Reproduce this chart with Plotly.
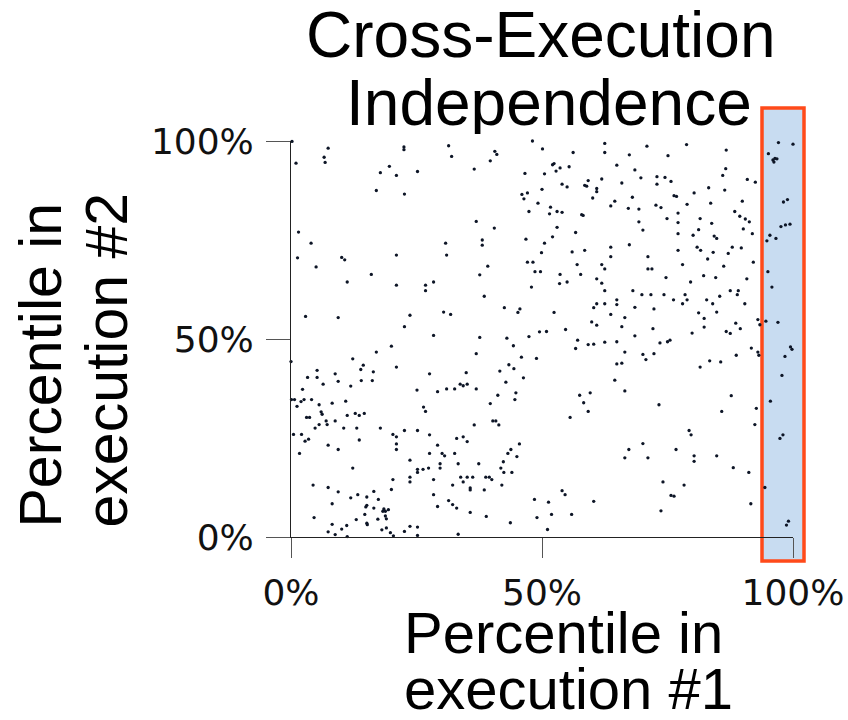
import plotly.graph_objects as go

# Percentile rank of each benchmark run in execution #1 (x) and execution #2 (y)
exec1_pct = [
    0.2, 7.4, 1.0, 6.6, 6.8, 22.5, 22.5, 31.4, 32.0, 19.6, 17.8, 21.0, 25.2, 17.0, 22.6, 1.5, 4.0, 1.3, 10.1, 10.7, 5.0, 21.0, 30.8, 31.0,
    48.1, 50.1, 40.6, 41.0, 39.7, 36.5, 56.2, 62.5, 62.5, 67.4, 46.6, 50.5, 52.1, 52.4, 53.6, 52.8, 55.4, 64.9, 61.9, 65.9, 59.2, 58.5,
    58.9, 60.9, 60.9, 54.0, 55.0, 50.0, 46.0, 47.1, 46.4, 49.2, 60.1, 64.5, 63.7, 67.2, 47.4, 51.7, 51.5, 53.0, 54.0, 57.9, 58.2, 36.9,
    40.5, 53.0, 56.7, 52.1, 46.8, 50.5, 38.1, 38.1, 49.9, 56.0, 58.5, 63.7, 63.7, 67.4, 39.2, 47.1, 48.2, 57.0, 61.9, 62.5,
    70.9, 78.8, 75.1, 86.7, 68.5, 69.7, 72.9, 74.5, 75.7, 72.9, 86.6, 86.0, 90.9, 92.5, 97.1, 100.0, 95.1, 96.0, 96.4, 96.8, 96.2, 83.2,
    86.4, 80.3, 68.0, 76.3, 76.8, 69.3, 72.7, 73.7, 78.9, 83.6, 89.9, 77.1, 88.4, 89.4, 90.5, 91.3, 98.1, 98.9, 69.3, 74.9, 77.1, 81.5,
    83.8, 70.1, 77.1, 81.2, 80.1, 84.3, 84.8, 90.1, 91.9, 97.6, 98.5, 99.4, 95.4, 94.8, 96.6, 77.1, 80.9, 81.6, 84.1, 87.9, 89.7, 87.1,
    71.1, 83.0, 78.0, 86.2, 92.1, 71.1, 71.9,
    11.2, 16.0, 21.0, 26.8, 28.4, 26.8, 2.9, 9.4, 23.7, 22.6, 30.4, 31.8, 28.4, 20.0, 17.0, 0.0, 12.3, 14.4, 13.9, 16.4, 21.0, 27.6,
    5.2, 3.3, 5.2, 8.8, 9.4, 6.4, 14.0, 16.2, 11.9, 2.3, 25.1, 29.2, 31.0, 32.6, 0.1, 0.7, 2.0, 2.6, 4.1, 8.2, 10.9, 5.6,
    37.6, 48.6, 49.7, 53.6, 57.7, 47.9, 53.5, 55.0, 60.9, 61.9, 62.5, 38.5, 42.5, 45.6, 45.2, 52.4, 60.9, 62.5, 64.9, 64.9, 60.3, 63.7,
    66.5, 59.9, 60.9, 65.9, 54.7, 50.9, 49.5, 47.4, 37.6, 43.0, 44.3, 57.1, 56.7, 59.2, 60.3, 62.5, 64.9, 66.5, 36.9, 45.9, 48.9, 43.4,
    44.4, 41.6, 64.9, 65.9, 34.9, 46.3, 42.8, 64.5, 33.7, 34.3, 35.1, 36.9, 41.2, 44.8, 44.6, 39.7, 57.5, 59.6, 58.3, 66.5,
    74.7, 79.6, 82.2, 84.6, 90.8, 68.1, 69.9, 71.7, 74.3, 78.5, 76.2, 78.0, 78.9, 82.8, 84.0, 85.4, 87.5, 89.1, 88.9, 90.4, 68.5, 72.3,
    81.2, 84.8, 82.3, 72.1, 82.3, 79.9, 88.6, 89.5, 86.7, 87.5, 93.0, 93.4, 94.6, 97.0, 95.8, 95.0, 68.5, 73.5, 75.0, 75.5, 70.1, 72.3,
    70.7, 81.5, 83.4, 85.6, 88.7, 91.7, 93.0, 93.2, 99.5, 99.8, 98.4, 97.8, 95.5, 87.7, 73.3,
    1.2, 6.0, 6.2, 11.2, 12.8, 13.6, 14.6, 3.1, 3.7, 5.6, 7.0, 7.2, 8.8, 4.8, 10.5, 13.1, 17.8, 0.5, 2.1, 3.5, 2.8, 7.4, 9.4, 13.6,
    1.7, 20.3, 21.0, 21.0, 21.0, 22.6, 25.2, 26.4, 26.8, 27.6, 33.0, 29.2, 27.6, 30.1, 30.6, 32.6, 23.7, 12.3, 25.2, 25.2, 26.3, 27.4,
    29.7, 29.7, 33.3, 23.7, 23.7, 20.3, 28.4, 32.2, 4.4, 7.4, 9.4, 20.0, 16.5, 13.3, 11.9, 15.1, 17.4, 28.4, 31.4, 32.2, 33.0, 29.2,
    8.2, 15.1, 14.9, 16.5, 18.5, 18.8, 18.3, 19.4, 14.7, 18.8, 19.0, 17.3, 4.6, 13.0, 15.1, 15.2, 8.2, 11.1, 10.1, 7.4, 8.8, 11.2,
    18.1, 19.0, 19.8, 20.4, 22.6, 23.7, 25.2, 25.2, 33.3,
    40.2, 40.8, 41.4, 36.5, 34.3, 35.1, 37.4, 45.5, 43.8, 43.2, 45.0, 42.3, 41.8, 42.4, 44.0, 33.8, 35.1, 36.2, 34.3, 38.8, 39.5, 40.0,
    35.7, 35.7, 38.5, 42.0, 35.7, 38.9, 43.7, 48.5, 51.3, 49.0, 51.9, 51.1, 54.0, 54.6, 55.9, 60.3, 55.6, 59.2, 66.5, 67.3,
    85.8, 92.7, 92.4, 98.0, 97.4, 79.3, 79.7, 70.1, 71.1, 76.7, 80.3, 80.3, 84.8, 88.1, 91.2, 74.1, 78.3, 75.7, 76.3, 73.7, 91.6, 94.4,
    99.1, 98.7,
]
exec2_pct = [
    99.9, 98.2, 94.4, 95.9, 94.6, 98.5, 97.8, 98.8, 96.1, 93.6, 92.0, 91.3, 92.3, 87.5, 86.6, 77.0, 74.2, 70.5, 70.6, 70.0, 68.2, 71.2, 74.2, 71.2,
    100.0, 98.0, 97.4, 96.6, 95.0, 92.9, 97.1, 99.4, 97.1, 96.5, 91.8, 91.7, 94.0, 94.3, 93.2, 92.4, 93.5, 93.9, 90.4, 89.4, 90.0, 88.8,
    88.6, 88.0, 87.2, 89.1, 88.4, 87.8, 86.5, 86.9, 85.4, 84.3, 85.6, 84.8, 83.6, 83.0, 82.2, 83.3, 81.6, 82.2, 82.0, 81.4, 81.2, 79.7,
    78.0, 78.2, 76.9, 75.8, 75.2, 74.2, 75.0, 73.7, 71.8, 72.0, 72.4, 73.2, 70.8, 73.8, 68.4, 69.4, 69.4, 68.8, 68.8, 67.7,
    98.7, 99.1, 96.3, 97.7, 92.7, 90.7, 91.0, 90.8, 89.8, 89.1, 93.0, 91.3, 90.3, 89.6, 99.6, 99.2, 96.8, 95.2, 95.6, 95.5, 94.7, 88.2,
    87.6, 86.9, 85.8, 86.2, 86.0, 82.8, 83.8, 83.2, 84.0, 84.3, 84.8, 81.8, 82.2, 81.0, 80.3, 79.6, 84.6, 85.2, 79.6, 80.4, 79.4, 80.4,
    79.2, 77.5, 76.6, 77.6, 76.2, 76.0, 75.4, 77.8, 76.6, 78.4, 78.8, 79.0, 76.2, 74.8, 75.4, 72.4, 73.2, 72.4, 71.9, 73.2, 73.0, 71.6,
    70.8, 70.2, 68.8, 68.4, 69.4, 67.7, 67.7,
    64.4, 66.3, 63.6, 63.6, 64.4, 62.2, 55.7, 55.4, 56.0, 53.1, 56.8, 56.2, 50.9, 48.2, 46.7, 44.3, 45.0, 43.4, 42.3, 41.7, 42.9, 41.2,
    42.1, 40.3, 40.3, 41.2, 39.3, 38.6, 39.5, 39.5, 38.1, 37.3, 37.1, 36.7, 37.4, 37.4, 34.7, 34.7, 34.2, 34.7, 34.7, 33.8, 34.3, 33.4,
    66.2, 67.0, 67.0, 66.3, 66.3, 63.1, 64.0, 64.4, 65.2, 64.1, 62.2, 60.8, 57.9, 57.6, 56.7, 56.7, 58.9, 58.9, 59.9, 58.7, 57.9, 56.2,
    55.4, 54.3, 53.5, 53.1, 52.4, 51.9, 51.8, 50.6, 50.4, 50.2, 48.3, 49.7, 47.6, 48.6, 48.7, 49.2, 49.3, 46.7, 46.3, 45.4, 45.1, 43.5,
    42.5, 41.9, 43.7, 43.9, 41.5, 40.2, 39.1, 39.6, 38.6, 38.2, 38.6, 37.4, 35.8, 36.4, 34.7, 33.7, 35.8, 36.4, 33.9, 36.9,
    65.5, 64.4, 66.0, 65.5, 65.2, 62.2, 61.2, 61.2, 61.2, 61.2, 59.9, 58.9, 59.9, 59.9, 58.9, 60.8, 62.2, 62.2, 61.2, 58.9, 58.0, 57.6,
    56.6, 56.8, 55.2, 52.6, 53.0, 51.5, 54.0, 52.6, 51.9, 51.4, 54.9, 53.6, 54.5, 54.2, 63.1, 67.0, 50.8, 49.0, 49.3, 49.7, 46.1, 46.3,
    44.8, 42.9, 44.5, 44.2, 45.9, 47.7, 46.7, 45.9, 48.0, 47.4, 45.6, 40.8, 34.3, 35.7, 33.4,
    33.0, 31.6, 31.0, 30.7, 31.2, 30.7, 31.2, 30.2, 30.2, 28.4, 29.3, 28.4, 29.3, 27.5, 27.5, 27.5, 27.5, 25.9, 25.9, 24.7, 24.2, 23.2, 22.1, 24.5,
    21.1, 25.9, 25.3, 23.5, 22.1, 26.9, 26.9, 32.8, 31.7, 25.8, 24.9, 23.2, 21.1, 21.1, 20.5, 21.1, 19.4, 17.4, 17.1, 16.3, 17.1, 17.4,
    18.5, 17.4, 18.5, 15.1, 13.9, 14.5, 14.5, 13.1, 13.1, 12.5, 11.4, 12.0, 11.5, 10.7, 9.9, 10.1, 9.5, 10.7, 9.2, 8.2, 7.3, 7.7,
    8.4, 8.0, 7.6, 7.3, 7.1, 6.5, 6.5, 6.9, 5.7, 5.3, 4.6, 4.5, 4.9, 4.4, 3.5, 3.1, 3.2, 2.9, 2.0, 1.3, 0.6, 0.1,
    1.8, 2.3, 1.1, 0.3, 1.4, 2.7, 2.5, 0.4, 0.7,
    29.3, 29.3, 28.3, 28.3, 25.3, 24.1, 18.5, 23.5, 22.1, 21.1, 20.3, 19.0, 17.4, 16.3, 16.3, 15.1, 15.1, 15.1, 13.9, 15.1, 15.1, 14.5,
    12.4, 11.9, 11.9, 13.1, 6.2, 5.2, 3.6, 9.5, 8.8, 4.9, 5.7, 1.9, 11.7, 10.7, 5.7, 9.0, 30.2, 31.7, 20.0, 22.1,
    31.7, 32.5, 28.4, 25.8, 24.9, 26.9, 25.8, 23.6, 20.0, 22.1, 20.5, 19.1, 20.5, 17.5, 16.3, 13.9, 13.1, 10.5, 10.3, 6.6, 8.4, 12.5,
    4.0, 3.0,
]

tick_vals = [0, 50, 100]
tick_text = ["0%", "50%", "100%"]

W, H = 848, 720
L, R, T, B = 291, 55, 141, 183
plot_w, plot_h = W - L - R, H - T - B


def px_x(p):
    return (p - L) / plot_w


def px_y(p):
    return (H - B - p) / plot_h


text_font = "Liberation Sans, Arial, sans-serif"
tick_font = dict(family="DejaVu Sans, sans-serif", size=36, color="#111")

fig = go.Figure()
fig.add_trace(go.Scatter(
    x=exec1_pct, y=exec2_pct, mode="markers",
    marker=dict(size=3.3, color="#0d1526", line=dict(width=0)),
    cliponaxis=False, hoverinfo="skip", showlegend=False,
))

# Highlight band around the top percentile of execution #1
fig.add_shape(
    type="rect", xref="paper", yref="paper", layer="below",
    x0=px_x(762), x1=px_x(804), y0=px_y(561), y1=px_y(108),
    line=dict(color="#ff4a1a", width=3.5), fillcolor="#c8dcf1",
)

axis_common = dict(
    range=[0, 100], tickvals=tick_vals, ticktext=tick_text,
    showgrid=False, zeroline=False, showline=True, linecolor="#222",
    linewidth=1, ticks="outside", tickcolor="#555", tickwidth=1,
    tickfont=tick_font, fixedrange=True,
)

fig.update_layout(
    width=W, height=H, margin=dict(l=L, r=R, t=T, b=B, autoexpand=False),
    paper_bgcolor="white", plot_bgcolor="rgba(0,0,0,0)",
    xaxis=dict(axis_common, ticklen=20, ticklabelstandoff=4),
    yaxis=dict(axis_common, ticklen=24, ticklabelstandoff=5),
)

# Titles drawn one line per annotation to keep tight line spacing
title_lines = [("Cross-Execution", 541, 35), ("Independence", 549, 103)]
for txt, cx, cy in title_lines:
    fig.add_annotation(text=txt, xref="paper", yref="paper", x=px_x(cx), y=px_y(cy),
                       xanchor="center", yanchor="middle", showarrow=False, height=62,
                       font=dict(family=text_font, size=64, color="#000"))

x_title = [("Percentile in", 632), ("execution #1", 688)]
for txt, cy in x_title:
    fig.add_annotation(text=txt, xref="paper", yref="paper", x=px_x(402), y=px_y(cy),
                       xanchor="left", yanchor="middle", showarrow=False, height=54,
                       font=dict(family=text_font, size=58, color="#000"))

y_title = [("Percentile in", 40), ("execution #2", 106)]
for txt, cx in y_title:
    fig.add_annotation(text=txt, xref="paper", yref="paper", x=px_x(cx), y=px_y(530),
                       xanchor="center", yanchor="bottom", textangle=-90, showarrow=False,
                       height=56,
                       font=dict(family=text_font, size=59, color="#000"))

fig.write_html("out.html")
